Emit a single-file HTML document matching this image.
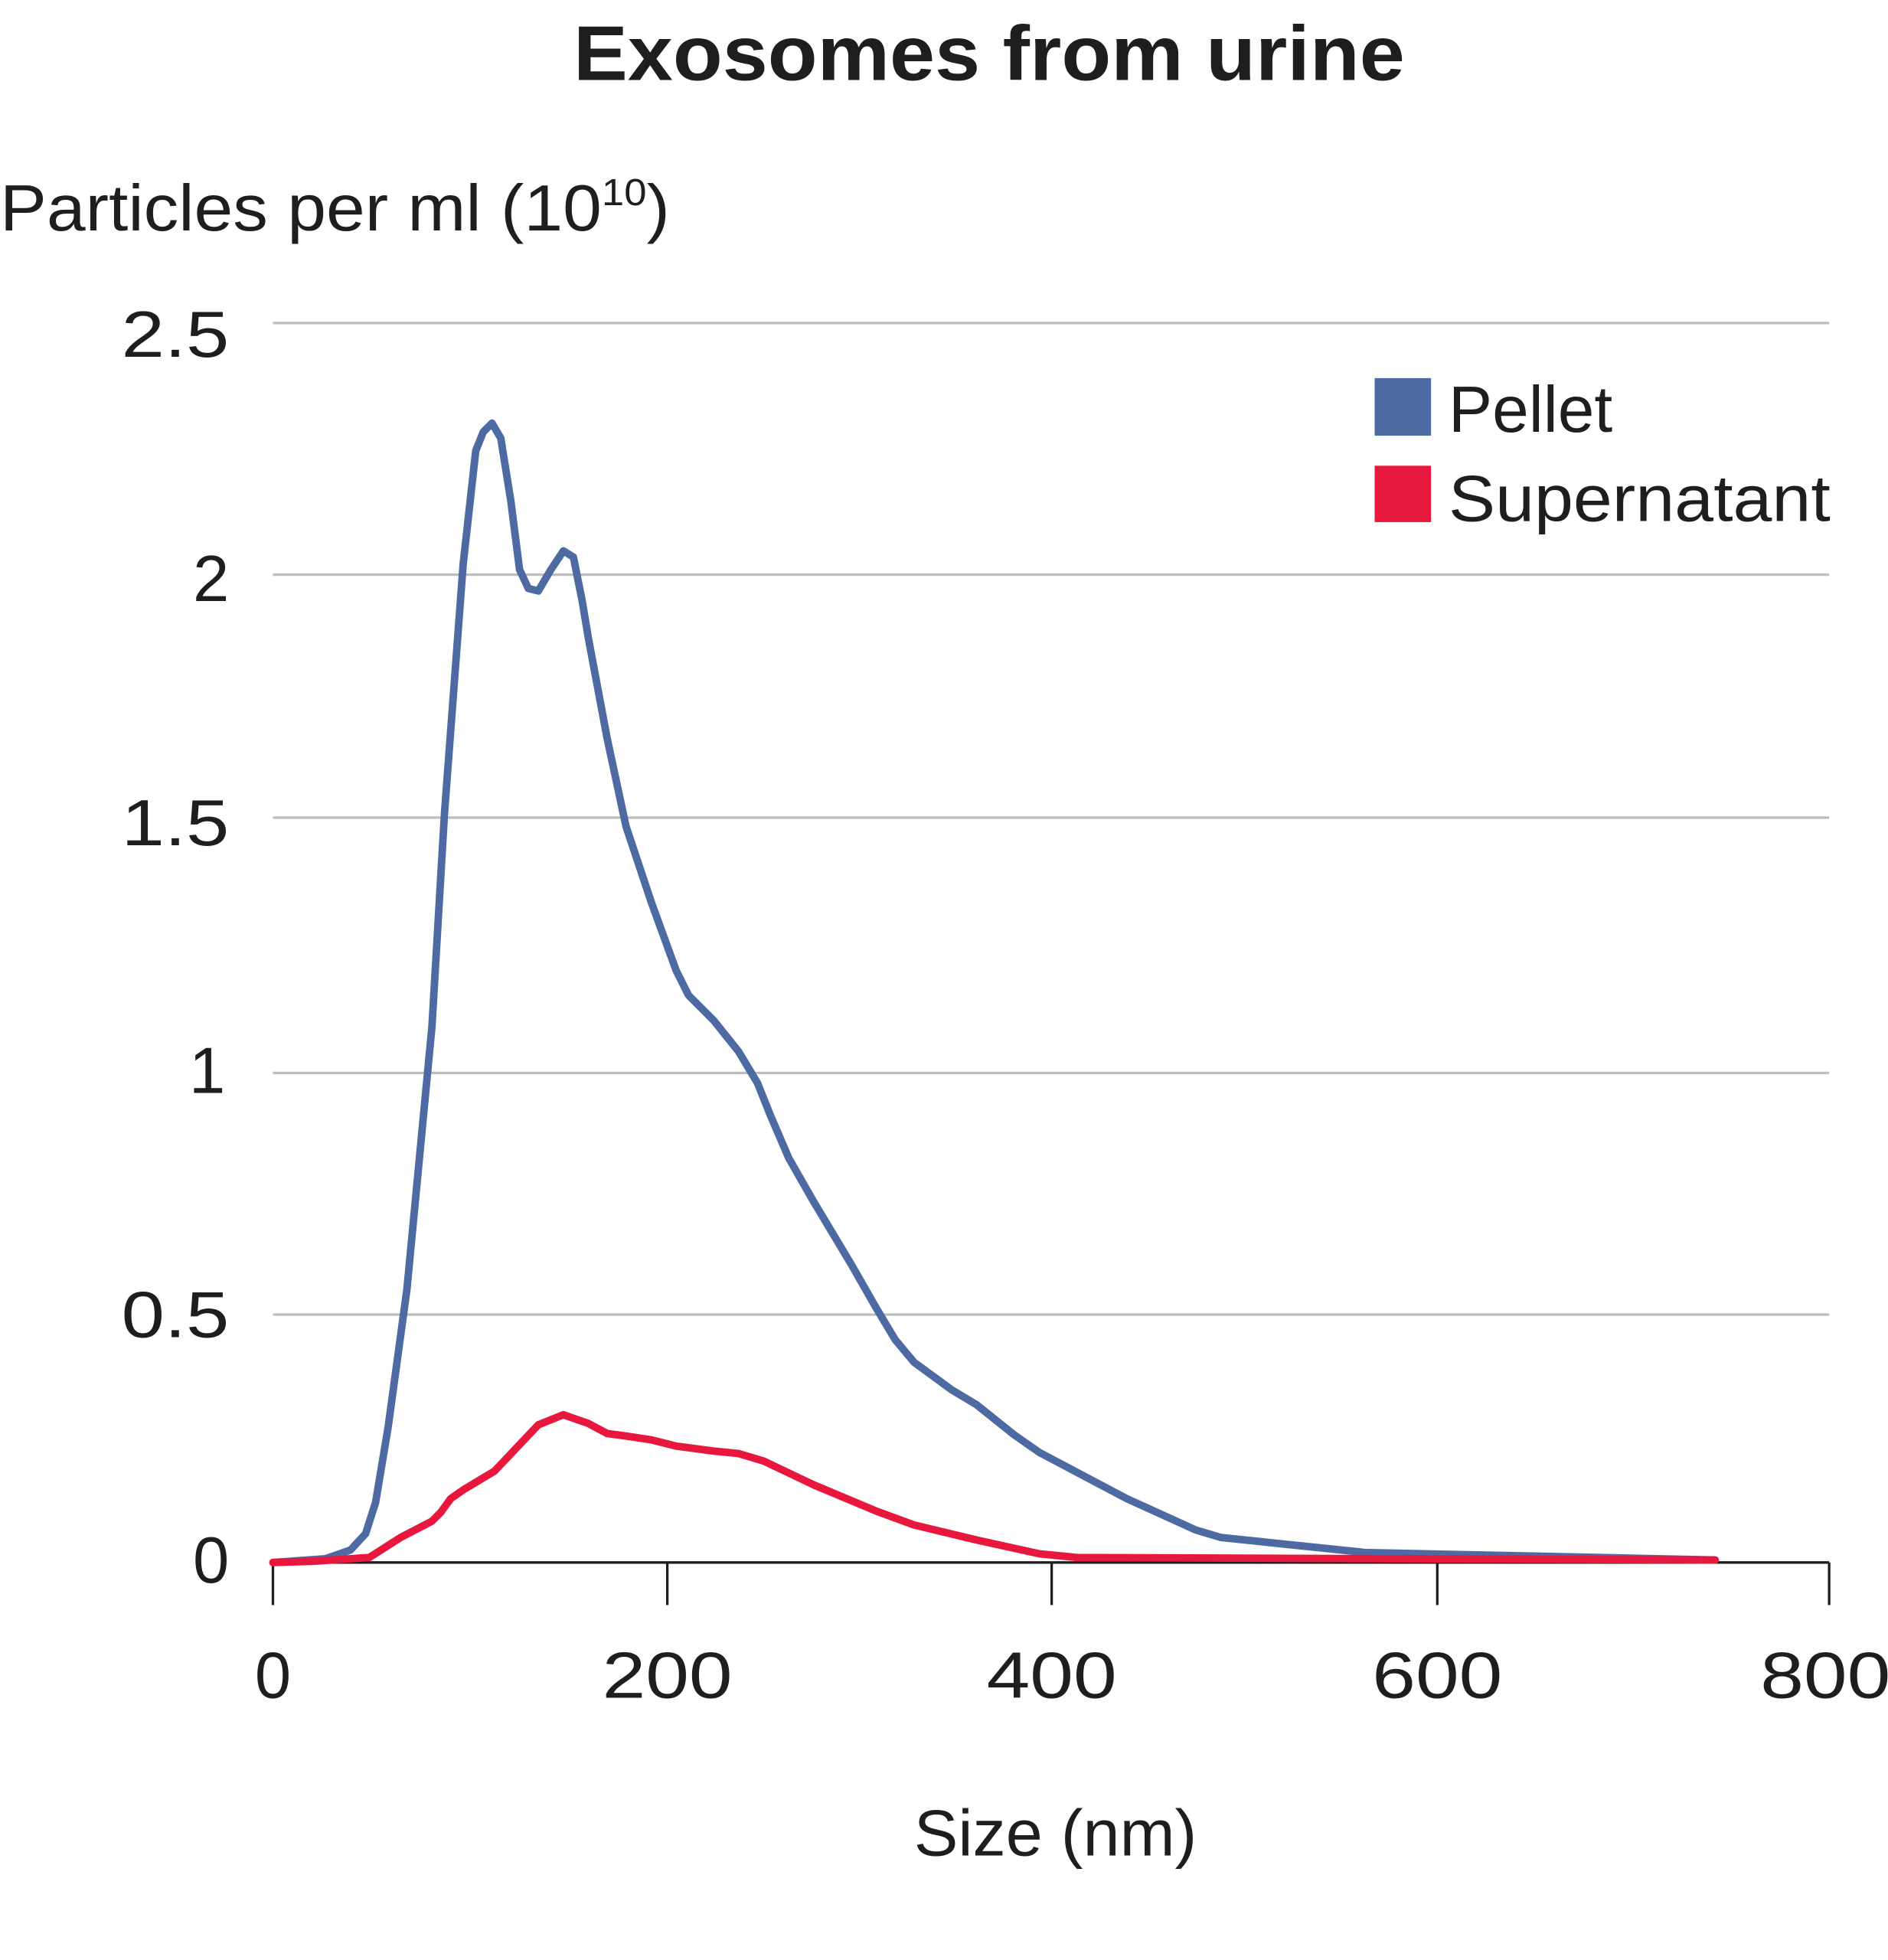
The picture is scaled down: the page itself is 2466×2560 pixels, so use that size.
<!DOCTYPE html>
<html><head><meta charset="utf-8"><style>
html,body{margin:0;padding:0;background:#fff;}
svg{display:block;}
text{font-family:"Liberation Sans",sans-serif;fill:#1e1e1e;}
</style></head><body>
<svg width="2466" height="2560" viewBox="0 0 1508 1565.5" preserveAspectRatio="none" xmlns="http://www.w3.org/2000/svg">
<text x="458" y="64" font-size="62" font-weight="bold" textLength="664" lengthAdjust="spacingAndGlyphs">Exosomes from urine</text>
<text x="0" y="184" font-size="52" textLength="535" lengthAdjust="spacingAndGlyphs">Particles per ml (10<tspan font-size="30" dy="-20">10</tspan><tspan dy="20">)</tspan></text>
<g stroke="#bdbdbd" stroke-width="2">
<line x1="218" y1="258" x2="1461" y2="258"/>
<line x1="218" y1="459" x2="1461" y2="459"/>
<line x1="218" y1="653" x2="1461" y2="653"/>
<line x1="218" y1="857" x2="1461" y2="857"/>
<line x1="218" y1="1050" x2="1461" y2="1050"/>
</g>
<g stroke="#1e1e1e" stroke-width="2">
<line x1="218" y1="1248" x2="1461" y2="1248"/>
<line x1="218" y1="1248" x2="218" y2="1282"/>
<line x1="533" y1="1248" x2="533" y2="1282"/>
<line x1="840" y1="1248" x2="840" y2="1282"/>
<line x1="1148" y1="1248" x2="1148" y2="1282"/>
<line x1="1461" y1="1248" x2="1461" y2="1282"/>
</g>
<g font-size="52" text-anchor="end">
<text x="183" y="285" textLength="86" lengthAdjust="spacingAndGlyphs">2.5</text>
<text x="183" y="480">2</text>
<text x="183" y="675" textLength="86" lengthAdjust="spacingAndGlyphs">1.5</text>
<text x="180" y="873">1</text>
<text x="183" y="1068" textLength="86" lengthAdjust="spacingAndGlyphs">0.5</text>
<text x="183" y="1264">0</text>
</g>
<g font-size="52" text-anchor="middle">
<text x="218" y="1356">0</text>
<text x="533" y="1356" textLength="104" lengthAdjust="spacingAndGlyphs">200</text>
<text x="840" y="1356" textLength="104" lengthAdjust="spacingAndGlyphs">400</text>
<text x="1148" y="1356" textLength="104" lengthAdjust="spacingAndGlyphs">600</text>
<text x="1458" y="1356" textLength="104" lengthAdjust="spacingAndGlyphs">800</text>
<text x="843" y="1482" textLength="226" lengthAdjust="spacingAndGlyphs">Size (nm)</text>
</g>
<rect x="1098" y="302" width="45" height="46" fill="#4e6aa3"/>
<rect x="1098" y="372" width="45" height="45" fill="#e8173e"/>
<text x="1157" y="345" font-size="52" textLength="131" lengthAdjust="spacingAndGlyphs">Pellet</text>
<text x="1157" y="416" font-size="52" textLength="305" lengthAdjust="spacingAndGlyphs">Supernatant</text>
<polyline fill="none" stroke="#4e6aa3" stroke-width="6" stroke-linejoin="round" stroke-linecap="round" points="218,1248 260,1245 280,1238 292,1225 300,1200 310,1140 325,1030 345,820 355,650 370,450 380,360 386,345 393,338 400,350 408,400 415,455 422,470 430,472 440,455 450,440 458,445 465,480 470,510 485,590 500,660 520,720 540,775 550,795 570,815 590,840 605,865 615,890 630,925 650,960 680,1010 700,1045 715,1070 730,1088 760,1110 780,1122 810,1146 830,1160 900,1197 955,1222 975,1228 1090,1240 1370,1246"/>
<polyline fill="none" stroke="#e8173e" stroke-width="6" stroke-linejoin="round" stroke-linecap="round" points="218,1248 250,1247 295,1244 320,1228 345,1215 352,1208 360,1197 370,1190 395,1175 430,1138 450,1130 470,1137 485,1145 500,1147 520,1150 540,1155 570,1159 590,1161 610,1167 650,1186 700,1207 730,1218 780,1230 830,1241 860,1244 1370,1246"/>
</svg>
</body></html>
